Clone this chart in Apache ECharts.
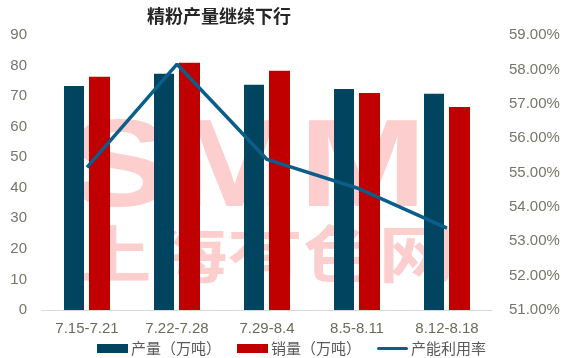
<!DOCTYPE html>
<html><head><meta charset="utf-8">
<script src="https://cdn.jsdelivr.net/npm/echarts@6/dist/echarts.min.js"></script>
<style>html,body{margin:0;padding:0;background:#fff}#c{width:572px;height:358px}</style>
</head><body><div id="c"></div>
<script>
const categories = ['7.15-7.21','7.22-7.28','7.29-8.4','8.5-8.11','8.12-8.18'];
const output = [73.3, 77.3, 73.7, 72.3, 70.8];
const sales = [76.3, 80.9, 78.3, 71.0, 66.4];
const utilization = [55.15, 58.15, 55.38, 54.55, 53.38];
const leftTicks = {min: 0, max: 90, interval: 10};
const rightTicks = {min: 51, max: 59, interval: 1};
const names = ['产量（万吨）','销量（万吨）','产能利用率'];

const chart = echarts.init(document.getElementById('c'));
const font = "'Liberation Sans', 'Noto Sans CJK SC', sans-serif";
chart.setOption({
  animation: false,
  textStyle: {fontFamily: font},
  title: {text: '精粉产量继续下行', left: 142, top: 2,
    textStyle: {fontSize: 18, fontWeight: 'bold', color: '#262626', fontFamily: "'Noto Sans CJK SC', sans-serif"}},
  graphic: [
    {type: 'text', x: 68, y: 172, scaleX: 1.24, z: 0, silent: true,
     style: {text: 'SMM', fontSize: 124, fontWeight: 'bold', fontFamily: "'Liberation Sans', sans-serif",
       fill: '#FCCECE', textAlign: 'left', textVerticalAlign: 'middle'}},
    {type: 'text', x: 76, y: 254, scaleX: 1.22, z: 0, silent: true,
     style: {text: '上海有色网', fontSize: 62, fontWeight: 'bold', fontFamily: "'Noto Sans CJK SC', sans-serif",
       fill: '#FCCECE', textAlign: 'left', textVerticalAlign: 'middle'}}
  ],
  grid: {left: 42, right: 80, top: 35, bottom: 48, containLabel: false},
  legend: {left: 92, top: 336, itemGap: 16, itemWidth: 31, itemHeight: 9,
    textStyle: {fontSize: 15, color: '#595959', fontFamily: "'Noto Sans CJK SC', sans-serif", padding: [0,0,0,-2]},
    data: [{name: names[0], icon: 'rect'}, {name: names[1], icon: 'rect'},
      {name: names[2], icon: 'path://M0,0 M0,9 M1.5,3 L29.5,3 A1.5,1.5 0 0 1 29.5,6 L1.5,6 A1.5,1.5 0 0 1 1.5,3 Z'}]},
  xAxis: {type: 'category', data: categories,
    axisLine: {lineStyle: {color: '#d9d9d9', width: 1}}, axisTick: {show: false},
    axisLabel: {fontSize: 15, color: '#6b6b5b', margin: 11}},
  yAxis: [
    {type: 'value', min: leftTicks.min, max: leftTicks.max, interval: leftTicks.interval,
     splitLine: {show: false}, axisLine: {show: false}, axisTick: {show: false},
     axisLabel: {fontSize: 15, color: '#76766a', margin: 15}},
    {type: 'value', min: rightTicks.min, max: rightTicks.max, interval: rightTicks.interval,
     splitLine: {show: false}, axisLine: {show: false}, axisTick: {show: false},
     axisLabel: {fontSize: 15, color: '#76766a', margin: 17, formatter: v => v.toFixed(2) + '%'}}
  ],
  series: [
    {name: names[0], type: 'bar', data: output, barWidth: 20, barGap: '25%',
     itemStyle: {color: '#00445F'}, z: 2},
    {name: names[1], type: 'bar', data: sales, barWidth: 21,
     itemStyle: {color: '#C00000'}, z: 2},
    {name: names[2], type: 'line', yAxisIndex: 1, data: utilization,
     symbol: 'none', lineStyle: {color: '#0B5E8A', width: 3.5}, itemStyle: {color: '#0B5E8A'}, z: 3}
  ]
});
</script></body></html>
